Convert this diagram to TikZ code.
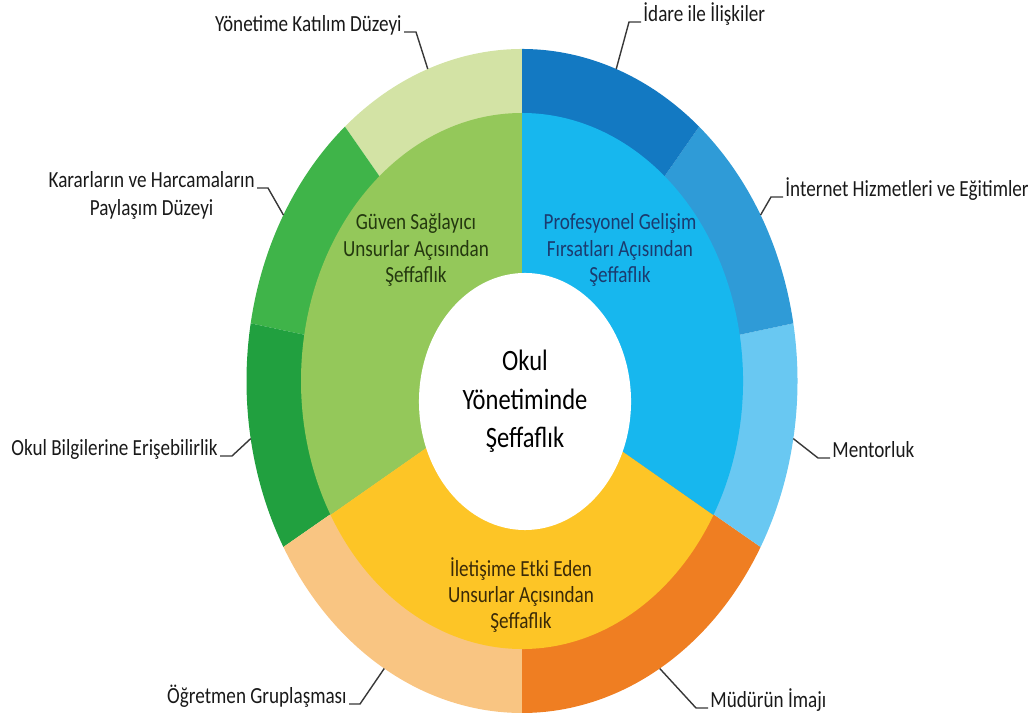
\documentclass[tikz,border=0pt]{standalone}
\usepackage{fontspec}
\setmainfont{Carlito}[FakeStretch=0.83]
\usetikzlibrary{shapes.geometric}

\definecolor{yonetimcol}{HTML}{D3E3A5}
\definecolor{kararcol}{HTML}{3FB449}
\definecolor{bilgicol}{HTML}{21A03F}
\definecolor{ogretmencol}{HTML}{F9C582}
\definecolor{mudurcol}{HTML}{EF7E22}
\definecolor{mentorcol}{HTML}{69C8F2}
\definecolor{internetcol}{HTML}{2F9BD7}
\definecolor{idarecol}{HTML}{1379C2}
\definecolor{guvencol}{HTML}{94C85A}
\definecolor{profcol}{HTML}{17B7EE}
\definecolor{iletcol}{HTML}{FDC526}
\definecolor{guventext}{HTML}{24380F}
\definecolor{proftext}{HTML}{1B3B6F}
\definecolor{iletext}{HTML}{3A2A08}

\begin{document}
\begin{tikzpicture}[
      x=0.025cm,y=0.025cm,
      font=\fontsize{16.4}{20}\selectfont,
      leader/.style={draw=black!78,line width=1pt},
      outlabel/.style={inner sep=1.5pt,text=black!90},
      inlabel/.style={align=center,inner sep=0pt,font=\fontsize{16.4}{18.8}\selectfont}]
    \useasboundingbox (0,0) rectangle (1032,720);
    \coordinate (ctr) at (522,339);

    % outer ring
    \foreach \from/\to/\col in {90/130/yonetimcol,130/170/kararcol,170/210/bilgicol,
        210/270/ogretmencol,270/330/mudurcol,-30/10/mentorcol,10/50/internetcol,50/90/idarecol}
      \fill[\col] (ctr) -- ++(\from:275.5 and 332)
        arc[start angle=\from,end angle=\to,x radius=275.5,y radius=332] -- cycle;

    % middle ring
    \foreach \from/\to/\col in {90/210/guvencol,210/330/iletcol,-30/90/profcol}
      \fill[\col] (ctr) -- ++(\from:221 and 268)
        arc[start angle=\from,end angle=\to,x radius=221,y radius=268] -- cycle;

    \node [ellipse,fill=white,minimum width=5.3cm,minimum height=6.425cm,inner sep=0pt,
      align=center,font=\fontsize{21}{27.3}\selectfont] (okul) at (525,318.5)
      {Okul\\Yönetiminde\\Şeffaflık};

    \node [inlabel,text=guventext] (guven) at (416,470) {Güven Sağlayıcı\\Unsurlar Açısından\\Şeffaflık};
    \node [inlabel,text=proftext] (prof) at (620,470) {Profesyonel Gelişim\\Fırsatları Açısından\\Şeffaflık};
    \node [inlabel,text=iletext] (ilet) at (521,125) {İletişime Etki Eden\\Unsurlar Açısından\\Şeffaflık};

    % leader ends on the outer edge
    \foreach \a/\n in {110/yon,150/kar,190/bil,240/ogr,300/mud,350/men,30/int,70/ida}
      \path (ctr) ++(\a:275.5 and 332) coordinate (p\n);

    \node [outlabel,anchor=base east] (yon) at (404,688) {Yönetime Katılım Düzeyi};
    \node [outlabel,anchor=base east,align=center] (kar) at (257,504) {Kararların ve Harcamaların\\Paylaşım Düzeyi};
    \node [outlabel,anchor=base east] (bil) at (220,264) {Okul Bilgilerine Erişebilirlik};
    \node [outlabel,anchor=base east] (ogr) at (349,16) {Öğretmen Gruplaşması};
    \node [outlabel,anchor=base west] (mud) at (708,12) {Müdürün İmajı};
    \node [outlabel,anchor=base west] (men) at (830,262) {Mentorluk};
    \node [outlabel,anchor=base west] (int) at (783,523) {İnternet Hizmetleri ve Eğitimler};
    \node [outlabel,anchor=base west] (ida) at (641,698) {İdare ile İlişkiler};

    \draw [leader] (yon.base east) -- ++(12,0) -- (pyon);
    \draw [leader] (kar.base east) ++(0,28) -- ++(11,0) -- (pkar);
    \draw [leader] (bil.base east) -- ++(12,0) -- (pbil);
    \draw [leader] (ogr.base east) -- ++(11,0) -- (pogr);
    \draw [leader] (mud.base west) -- ++(-12,0) -- (pmud);
    \draw [leader] (men.base west) -- ++(-12,0) -- (pmen);
    \draw [leader] (int.base west) -- ++(-12,0) -- (pint);
    \draw [leader] (ida.base west) -- ++(-12,0) -- (pida);
  \end{tikzpicture}
\end{document}
